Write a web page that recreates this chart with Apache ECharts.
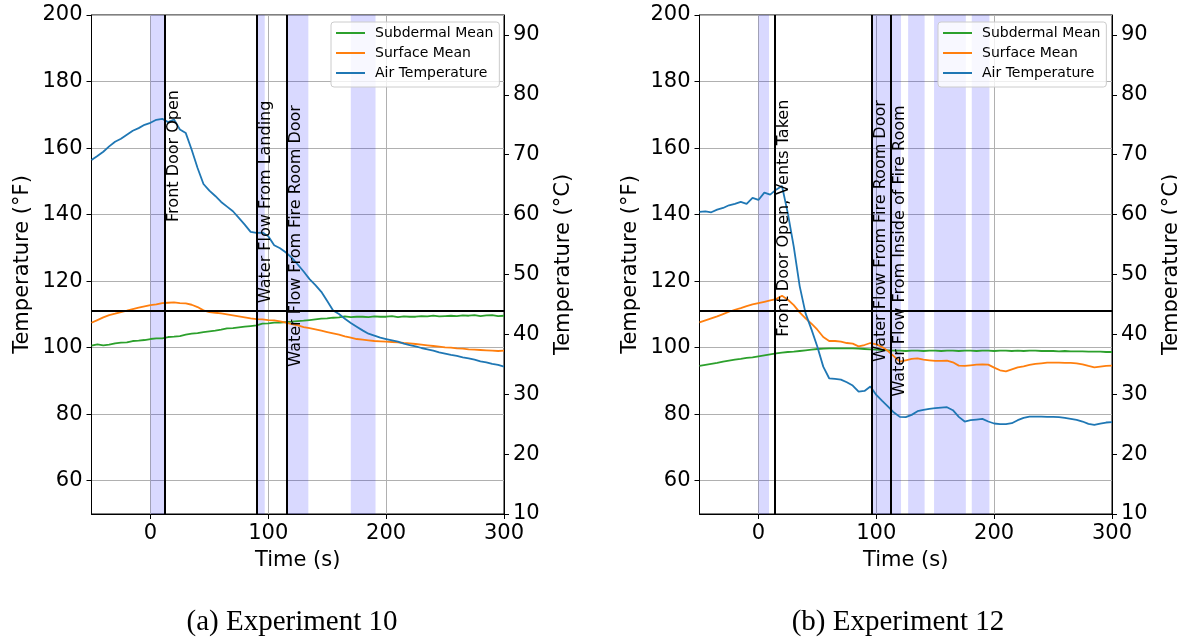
<!DOCTYPE html>
<html><head><meta charset="utf-8">
<script src="https://cdn.jsdelivr.net/npm/echarts@6/dist/echarts.min.js"></script>
<style>html,body{margin:0;padding:0;background:#fff}#main{width:1177px;height:639px}</style>
</head><body><div id="main"></div>
<script>
// ---------------- DATA ----------------
const TIME = [-50,-45,-40,-35,-30,-25,-20,-15,-10,-5,
  0,5,10,15,20,25,30,35,40,45,
  50,55,60,65,70,75,80,85,90,95,
  100,105,110,115,120,125,130,135,140,145,
  150,155,160,165,170,175,180,185,190,195,
  200,205,210,215,220,225,230,235,240,245,
  250,255,260,265,270,275,280,285,290,295,
  300];

const EXP10_SUBDERMAL = [100.6,101.0,100.7,100.9,101.3,101.5,101.6,102.0,102.1,102.3,
  102.6,102.8,102.8,103.2,103.3,103.5,103.9,104.2,104.4,104.7,
  104.9,105.1,105.4,105.8,105.9,106.1,106.3,106.5,106.7,107.2,
  107.3,107.5,107.5,107.7,107.8,108.0,108.1,108.3,108.5,108.7,
  108.8,109.0,109.1,109.4,109.2,109.3,109.3,109.2,109.4,109.3,
  109.3,109.5,109.2,109.4,109.3,109.3,109.5,109.4,109.6,109.4,
  109.5,109.6,109.5,109.7,109.6,109.8,109.5,109.7,109.8,109.5,
  109.6];
const EXP10_SURFACE = [107.5,108.3,109.1,109.8,110.2,110.7,111.1,111.6,112.0,112.4,
  112.8,113.0,113.4,113.5,113.6,113.4,113.3,112.9,112.2,111.2,
  110.7,110.5,110.3,110.0,109.7,109.4,109.1,108.8,108.6,108.5,
  108.3,108.2,107.9,107.5,107.1,106.7,106.2,105.9,105.5,105.1,
  104.7,104.3,103.9,103.4,103.0,102.6,102.4,102.2,102.0,101.9,
  101.8,101.7,101.6,101.4,101.3,101.1,100.9,100.7,100.5,100.3,
  100.1,100.0,99.8,99.7,99.5,99.4,99.3,99.2,99.1,99.0,
  99.1];
const EXP10_AIR = [156.4,157.6,158.9,160.5,161.9,162.8,164.0,165.2,166.0,167.0,
  167.6,168.5,168.8,167.8,168.6,165.6,164.5,159.5,154.0,149.2,
  147.2,145.6,143.8,142.4,141.0,139.0,137.0,134.8,134.5,134.6,
  133.5,130.8,129.9,128.6,127.0,125.0,122.9,120.6,118.8,116.8,
  114.0,111.2,110.1,108.7,107.4,106.3,105.2,104.2,103.6,103.0,
  102.6,102.2,101.8,101.2,100.8,100.4,99.9,99.5,99.1,98.6,
  98.2,97.8,97.5,97.1,96.8,96.4,95.9,95.6,95.1,94.8,
  94.3];

const EXP12_SUBDERMAL = [94.5,94.8,95.1,95.4,95.8,96.1,96.4,96.6,96.9,97.1,
  97.4,97.7,98.0,98.3,98.5,98.7,98.8,99.0,99.2,99.4,
  99.6,99.7,99.8,99.8,99.8,99.8,99.8,99.7,99.6,99.5,
  99.4,99.3,99.2,99.1,99.1,99.0,99.1,99.1,99.0,99.1,
  99.1,99.0,99.1,99.1,99.0,99.1,99.1,99.0,99.1,99.1,
  99.0,99.1,99.1,99.0,99.1,99.0,99.1,99.1,99.0,99.0,
  99.0,98.9,99.0,98.9,98.9,98.9,98.8,98.8,98.8,98.7,
  98.7];
const EXP12_SURFACE = [107.6,108.2,108.8,109.4,110.1,110.8,111.4,111.9,112.5,113.0,
  113.4,113.8,114.2,114.6,115.6,114.4,112.8,110.6,108.8,107.2,
  105.4,103.2,102.0,102.0,101.8,101.4,101.2,100.4,100.8,101.4,
  101.0,100.2,99.0,97.4,95.8,96.2,96.6,96.8,96.4,96.2,
  96.0,96.0,96.1,95.6,94.6,94.5,94.7,94.9,95.0,94.9,
  94.0,93.2,92.9,93.5,94.1,94.4,94.8,95.1,95.3,95.5,
  95.5,95.5,95.4,95.4,95.3,95.0,94.5,94.1,94.3,94.5,
  94.6];
const EXP12_AIR = [140.8,141.0,140.7,141.5,142.0,142.8,143.2,143.8,143.2,145.0,
  144.4,146.6,146.0,147.5,148.6,140.3,130.3,118.5,110.3,105.5,
  100.3,94.3,90.8,90.6,90.4,89.6,88.6,86.8,87.0,88.3,
  85.8,84.0,82.3,80.5,79.2,79.1,79.8,80.9,81.3,81.6,
  81.8,82.0,82.1,81.2,79.2,77.8,78.2,78.4,78.6,77.8,
  77.2,77.0,77.0,77.3,78.2,78.9,79.3,79.3,79.3,79.2,
  79.2,79.1,78.9,78.6,78.3,77.8,77.1,76.8,77.2,77.5,
  77.6];

const SERIES_NAMES = ['Subdermal Mean', 'Surface Mean', 'Air Temperature'];

const EXP10_EVENT_TIMES = [12, 90, 116];
const EXP10_EVENT_LABELS = ['Front Door Open', 'Water Flow From Landing', 'Water Flow From Fire Room Door'];
const EXP10_EVENT_LABEL_F = [137.8, 113.4, 94.3];
const EXP10_BAND_START = [0, 90, 116, 170];
const EXP10_BAND_END = [12, 97, 134, 191];

const EXP12_EVENT_TIMES = [14, 96, 112];
const EXP12_EVENT_LABELS = ['Front Door Open, Vents Taken', 'Water Flow From Fire Room Door', 'Water Flow From Inside of Fire Room'];
const EXP12_EVENT_LABEL_F = [103.3, 95.8, 85.3];
const EXP12_BAND_START = [0, 96, 127, 149, 181];
const EXP12_BAND_END = [9, 121, 141, 176, 196];

const THRESHOLD_F = 111.2;

const X_TICKS = [0, 100, 200, 300];
const F_TICKS = [60, 80, 100, 120, 140, 160, 180, 200];
const C_TICKS = [10, 20, 30, 40, 50, 60, 70, 80, 90];
const CAPTIONS = ['(a) Experiment 10', '(b) Experiment 12'];

// ---------------- LAYOUT / STYLE ----------------
const X_MIN = -50, X_MAX = 300, F_MIN = 50, F_MAX = 200;
const toC = f => (f - 32) * 5 / 9;
const COLORS = ['#2ca02c', '#ff7f0e', '#1f77b4'];
const FONT = 'DejaVu Sans';
const PANELS = [
  {left: 91.5, legendLeft: 331, caption: 292,
   series: [EXP10_SUBDERMAL, EXP10_SURFACE, EXP10_AIR],
   events: EXP10_EVENT_TIMES, labels: EXP10_EVENT_LABELS, labelF: EXP10_EVENT_LABEL_F,
   bandS: EXP10_BAND_START, bandE: EXP10_BAND_END},
  {left: 699.5, legendLeft: 938, caption: 898,
   series: [EXP12_SUBDERMAL, EXP12_SURFACE, EXP12_AIR],
   events: EXP12_EVENT_TIMES, labels: EXP12_EVENT_LABELS, labelF: EXP12_EVENT_LABEL_F,
   bandS: EXP12_BAND_START, bandE: EXP12_BAND_END}
];

const option = {
  animation: false,
  backgroundColor: '#fff',
  textStyle: {fontFamily: FONT},
  grid: [], xAxis: [], yAxis: [], series: [], legend: [], graphic: []
};

const tickText = {fontSize: 21, color: '#000', fontFamily: FONT};
const nameText = {fontSize: 21, color: '#000', fontFamily: FONT};
const blackLine = {show: true, onZero: false, lineStyle: {color: '#000', width: 1}};

PANELS.forEach((p, i) => {
  option.grid.push({left: p.left, top: 15, width: 412.5, height: 499,
    show: true, borderColor: '#000', borderWidth: 1, backgroundColor: 'transparent',
    containLabel: false, outerBoundsMode: 'none'});
  option.xAxis.push({gridIndex: i, type: 'value', min: X_MIN, max: X_MAX,
    name: 'Time (s)', nameLocation: 'middle', nameGap: 36, nameTextStyle: nameText,
    axisLine: blackLine,
    axisTick: {show: true, length: 5, customValues: X_TICKS, lineStyle: {color: '#000'}},
    axisLabel: {customValues: X_TICKS, margin: 9, ...tickText},
    splitLine: {show: true, lineStyle: {color: '#b0b0b0', width: 1}}});
  option.yAxis.push({gridIndex: i, type: 'value', min: F_MIN, max: F_MAX, position: 'left',
    name: 'Temperature (°F)', nameLocation: 'middle', nameGap: 58, nameTextStyle: nameText,
    axisLine: blackLine,
    axisTick: {show: true, length: 5, customValues: F_TICKS, lineStyle: {color: '#000'}},
    axisLabel: {customValues: F_TICKS, margin: 9, ...tickText},
    splitLine: {show: true, lineStyle: {color: '#b0b0b0', width: 1}}});
  option.yAxis.push({gridIndex: i, type: 'value', min: toC(F_MIN), max: toC(F_MAX), position: 'right',
    name: 'Temperature (°C)', nameLocation: 'middle', nameGap: 49, nameTextStyle: nameText,
    axisLine: blackLine,
    axisTick: {show: true, length: 5, customValues: C_TICKS, lineStyle: {color: '#000'}},
    axisLabel: {customValues: C_TICKS, margin: 9, ...tickText},
    splitLine: {show: false}});

  // shaded bands
  option.series.push({type: 'line', xAxisIndex: i, yAxisIndex: 2 * i, data: [], z: 1, silent: true,
    markArea: {silent: true, itemStyle: {color: 'rgba(0,0,255,0.15)'},
      data: p.bandS.map((s, k) => [{xAxis: s}, {xAxis: p.bandE[k]}])}});

  // temperature lines
  p.series.forEach((vals, k) => {
    option.series.push({type: 'line', name: SERIES_NAMES[k], xAxisIndex: i, yAxisIndex: 2 * i,
      data: TIME.map((t, j) => [t, vals[j]]), symbol: 'none', showSymbol: false, z: 3,
      color: COLORS[k], lineStyle: {color: COLORS[k], width: 1.8}});
  });

  // event lines and threshold
  option.series.push({type: 'line', xAxisIndex: i, yAxisIndex: 2 * i, data: [], z: 4, silent: true,
    markLine: {silent: true, symbol: ['none', 'none'], label: {show: false},
      lineStyle: {color: '#000', width: 2, type: 'solid'},
      data: p.events.map(t => ({xAxis: t})).concat([{yAxis: THRESHOLD_F}])}});

  // event labels
  option.series.push({type: 'scatter', xAxisIndex: i, yAxisIndex: 2 * i, z: 5, silent: true,
    symbolSize: 0, itemStyle: {opacity: 1},
    data: p.events.map((t, k) => [t, p.labelF[k], p.labels[k]]),
    label: {show: true, position: [1, 0], rotate: 90, align: 'left', verticalAlign: 'top',
      fontSize: 16, color: '#000', opacity: 1, fontFamily: FONT, formatter: q => q.data[2]}});

  option.legend.push({left: p.legendLeft, top: 22, orient: 'vertical',
    data: SERIES_NAMES, icon: 'rect', itemWidth: 29, itemHeight: 2, itemGap: 6,
    padding: [4, 6, 7, 5], backgroundColor: 'rgba(255,255,255,0.8)',
    borderColor: '#cccccc', borderWidth: 1, borderRadius: 3,
    textStyle: {fontSize: 14, color: '#000', fontFamily: FONT, lineHeight: 14, padding: [0, 0, 0, 5]}});

  option.graphic.push({type: 'text', x: p.caption, y: 622, silent: true,
    style: {text: CAPTIONS[i], align: 'center', verticalAlign: 'middle',
      font: '29px "Liberation Serif"', fill: '#000'}});
});

const chart = echarts.init(document.getElementById('main'), null, {renderer: 'canvas'});
chart.setOption(option);
</script></body></html>
